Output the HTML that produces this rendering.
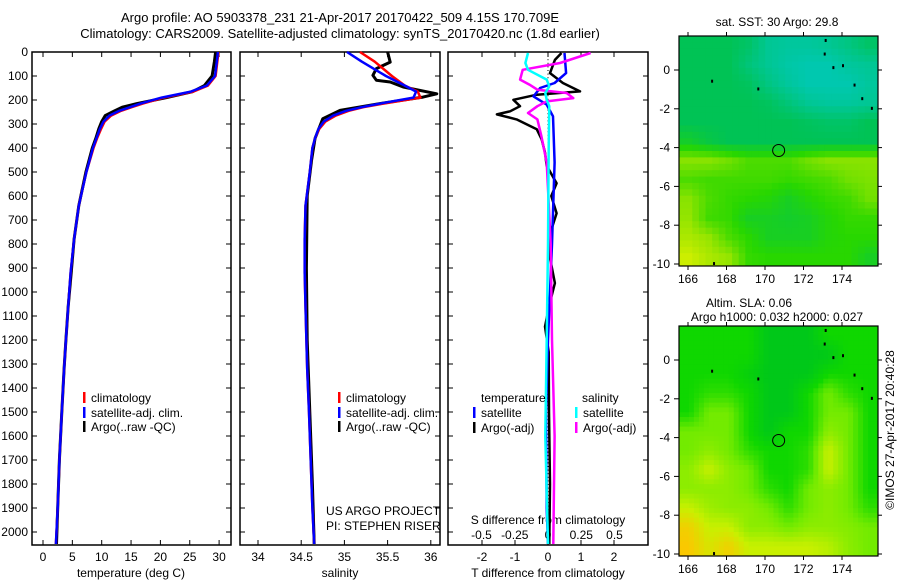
<!DOCTYPE html>
<html><head><meta charset="utf-8"><style>
html,body{margin:0;padding:0;background:#fff;}
svg{display:block;font-family:"Liberation Sans",sans-serif;}
text{font-size:12px;fill:#000;}
</style></head><body>
<svg id="fig" width="900" height="580" viewBox="0 0 900 580">
<rect width="900" height="580" fill="#fff"/>
<text x="340" y="22" text-anchor="middle" style="font-size:13px">Argo profile: AO 5903378_231 21-Apr-2017 20170422_509 4.15S 170.709E</text>
<text x="340" y="38" text-anchor="middle" style="font-size:13px">Climatology: CARS2009. Satellite-adjusted climatology: synTS_20170420.nc (1.8d earlier)</text>
<g id="g1"></g>
<g id="g2"></g>
<g id="g3"></g>
<g id="gm1"></g>
<g id="gm2"></g>
<text x="30" y="0" transform="translate(894,460) rotate(-90)" text-anchor="middle">©IMOS 27-Apr-2017 20:40:28</text>
</svg>
<script>
// ---- data ----
const depthTicks=[0,100,200,300,400,500,600,700,800,900,1000,1100,1200,1300,1400,1500,1600,1700,1800,1900,2000];
const tempTicks=[0,5,10,15,20,25,30];
const salTicks=[34,34.5,35,35.5,36];
const tdiffTicks=[-2,-1,0,1,2];
const sdiffTicks=[-0.5,-0.25,0,0.25,0.5];
const sdiffLabels=["-0.5","-0.25","0","0.25","0.5"];
const profDepth=[0,40,100,140,165,190,215,230,245,265,290,320,360,400,500,640,780,920,1060,1200,1320,1500,1700,1900,2050];
const tempClim=[29.9,29.7,29.4,28.1,25.6,20.6,17.0,15.1,13.3,11.6,10.5,9.9,9.2,8.6,7.4,6.1,5.3,4.7,4.3,3.9,3.6,3.2,2.8,2.5,2.2];
const tempSat=[29.8,29.6,29.3,27.9,25.2,20.2,16.6,14.8,13.0,11.3,10.3,9.7,9.1,8.5,7.4,6.1,5.3,4.7,4.3,3.9,3.6,3.2,2.8,2.5,2.2];
const tempArgo=[29.4,29.2,28.8,27.5,25.5,21.0,16.0,13.5,12.2,10.6,10.0,9.5,9.0,8.4,7.3,6.1,5.3,4.8,4.3,3.9,3.6,3.2,2.8,2.5,2.3];
const salClim=[35.18,35.35,35.55,35.70,35.85,35.88,35.45,35.22,35.05,34.90,34.78,34.71,34.66,34.63,34.60,34.55,34.54,34.54,34.55,34.56,34.57,34.59,34.61,34.63,34.65];
const salSat=[35.03,35.20,35.48,35.70,35.83,35.80,35.41,35.20,35.02,34.87,34.76,34.70,34.66,34.63,34.60,34.55,34.54,34.54,34.55,34.56,34.57,34.59,34.61,34.63,34.65];
const argoSDepth=[0,42,69,97,118,125,146,174,188,215,243,278,361,450,600,900,1200,1500,1800,2050];
const salArgo=[35.50,35.53,35.37,35.33,35.37,35.53,35.68,36.07,35.91,35.41,34.95,34.75,34.66,34.62,34.57,34.56,34.57,34.60,34.63,34.65];
const dTArgoDepth=[4,33,88,129,164,178,199,226,247,260,281,322,364,419,474,547,600,672,750,850,963,1050,1144,1250,1500,1800,2050];
const dTArgo=[0.41,0.21,0.06,0.45,0.97,-0.34,-1.05,-0.85,-1.15,-1.55,-0.95,-0.34,-0.19,-0.09,-0.04,0.26,0.10,0.26,0.08,0.05,0.21,0.05,-0.09,0.02,0.03,0.06,0.04];
const dTSatDepth=[4,88,129,150,185,219,268,460,800,1200,1500,1900,2050];
const dTSat=[0.50,0.55,0.20,-0.24,-0.44,-0.04,0.15,0.20,0.12,0.0,-0.06,-0.04,0.0];
const dSSatDepth=[4,46,74,115,143,171,199,226,400,800,1200,1600,2050];
const dSSat=[-0.15,-0.17,-0.15,-0.01,0.01,-0.02,-0.01,0.01,0.005,0.0,-0.01,-0.02,0.0];
const dSArgoDepth=[4,46,74,115,136,157,171,192,206,226,254,281,351,460,800,1200,1600,2050];
const dSArgo=[0.32,0.09,-0.19,-0.21,-0.14,-0.08,0.14,0.19,-0.01,-0.08,-0.15,-0.08,-0.05,-0.01,0.02,0.03,0.05,0.04];
const latTicks=[0,-2,-4,-6,-8,-10];
const lonTicks=[166,168,170,172,174];
const sstGrid=[
[1,1,1,0.8,0.3,0.2,0.2,0.3,0.5,0.8],
[1,1,1,0.6,0.3,0.1,0,0,0.2,0.3],
[1,1,1,0.9,0.5,0.2,0,0,0,0.2],
[1,1,1,1,0.9,0.6,0.3,0.2,0.2,0.3],
[1,1,1,1,1,1,0.9,0.8,0.8,1],
[1.5,1.2,1,1,1,1,1,1,1,1],
[2.8,2.8,2.6,2.3,2.3,2.3,2.6,2.8,2.8,2.8],
[2.3,2.2,2.2,2.2,2.2,2.1,2.2,2.3,2.6,2.7],
[2.8,2.3,2.1,2,1.9,1.6,1.9,2.1,2.2,2.6],
[2.9,2.2,2.1,1.6,1.6,1.5,1.6,1.9,2.1,2.1],
[3.1,2.9,2.3,2,1.6,1.6,1.6,1.9,2,2],
[3.4,3.1,2.9,2.1,2,2,2,2,2,1.6]];
const slaGrid=[
[1,1,1,1,0,0,0,1,1,1],
[1,1,1,1,0,0,0,0,1,1],
[1,1,1,0.5,0,0,0,1,1,1],
[1,1.3,1.3,1,0,0,1,2,1.3,1],
[1,2,2,1,0,0,1,2,2,1],
[2,2,2,1,0,1,1,2.3,2,1],
[2,2.3,2,1.3,1,1,1.3,3,2,1],
[2.3,3,2.3,2,1,1,1.3,3,2,1],
[2.3,2.3,2.3,2,1.3,1,2,2.3,2,1],
[3,2.5,2.3,2.3,2,1.3,2,2.3,2,1.3],
[3.8,3,3,2.3,2.3,2,2.3,2.3,2.2,2],
[4,3.3,3.8,3,3,3,3,2.8,2.3,2]];
const argoLon=170.709, argoLat=-4.15;
// ---- helpers ----
const NS="http://www.w3.org/2000/svg";
function mk(tag,parent,attrs){const e=document.createElementNS(NS,tag);for(const k in attrs)e.setAttribute(k,attrs[k]);parent.appendChild(e);return e;}
const yD=d=>52+d*0.24;
const xT=t=>43+t*5.87;
const xS=s=>258+(s-34)*86.4;
const xdT=t=>548+t*33;
const xdS=s=>548+s*133;
function panelBox(g,x0,x1,name){const r=mk('rect',g,{x:x0,y:52,width:x1-x0,height:493,fill:'none',stroke:'#000','stroke-width':1.5});


depthTicks.forEach(d=>{mk('line',g,{x1:x0,x2:x0+5,y1:yD(d),y2:yD(d),stroke:'#000'});mk('line',g,{x1:x1-5,x2:x1,y1:yD(d),y2:yD(d),stroke:'#000'});});}
function line(g,xs,ds,fx,color,name,w){let p='';xs.forEach((v,i)=>{p+=(i?'L':'M')+fx(v).toFixed(1)+','+yD(ds[i]).toFixed(1);});
const e=mk('path',g,{d:p,fill:'none',stroke:color,'stroke-width':w||2.5,'stroke-linejoin':'round'});

}
function txt(g,x,y,s,anchor){const t=mk('text',g,{x:x,y:y,'text-anchor':anchor||'start'});t.textContent=s;return t;}
function legend(g,x,y,color,label){mk('rect',g,{x:x,y:y-5,width:2.5,height:11,fill:color});const t=txt(g,x+8,y+5,label);

}
// ---- panel 1 ----
const g1=document.getElementById('g1');
panelBox(g1,32,231,'temperature-plot-area');
depthTicks.forEach(d=>{const t=txt(g1,28,yD(d)+4,String(d),'end');

});
tempTicks.forEach(v=>{mk('line',g1,{x1:xT(v),x2:xT(v),y1:52,y2:57,stroke:'#000'});mk('line',g1,{x1:xT(v),x2:xT(v),y1:540,y2:545,stroke:'#000'});
const t=txt(g1,xT(v),561,String(v),'middle');

});
const tl1=txt(g1,131,577,'temperature (deg C)','middle');


line(g1,tempArgo,profDepth,xT,'#000','argo-temperature-line',3);
line(g1,tempClim,profDepth,xT,'#f00','climatology-temperature-line');
line(g1,tempSat,profDepth,xT,'#00f','satellite-temperature-line');
legend(g1,83,397,'#f00','climatology');legend(g1,83,412,'#00f','satellite-adj. clim.');legend(g1,83,426,'#000','Argo(..raw -QC)');
// ---- panel 2 ----
const g2=document.getElementById('g2');
panelBox(g2,240,440,'salinity-plot-area');
salTicks.forEach(v=>{mk('line',g2,{x1:xS(v),x2:xS(v),y1:52,y2:57,stroke:'#000'});mk('line',g2,{x1:xS(v),x2:xS(v),y1:540,y2:545,stroke:'#000'});
const t=txt(g2,xS(v),561,String(v),'middle');

});
const tl2=txt(g2,340,577,'salinity','middle');


line(g2,salArgo,argoSDepth,xS,'#000','argo-salinity-line',3);
line(g2,salClim,profDepth,xS,'#f00','climatology-salinity-line');
line(g2,salSat,profDepth,xS,'#00f','satellite-salinity-line');
legend(g2,338,397,'#f00','climatology');legend(g2,338,412,'#00f','satellite-adj. clim.');legend(g2,338,426,'#000','Argo(..raw -QC)');
const us=txt(g2,326,515,'US ARGO PROJECT');
const pi=txt(g2,326,530,'PI: STEPHEN RISER');
// ---- panel 3 ----
const g3=document.getElementById('g3');
panelBox(g3,448,648,'difference-plot-area');
for(let d=0;d<=2050;d+=15)mk('rect',g3,{x:547.5,y:yD(d),width:1,height:1,fill:'#000'});
tdiffTicks.forEach(v=>{mk('line',g3,{x1:xdT(v),x2:xdT(v),y1:52,y2:57,stroke:'#000'});mk('line',g3,{x1:xdT(v),x2:xdT(v),y1:540,y2:545,stroke:'#000'});
const t=txt(g3,xdT(v),561,String(v),'middle');

});
sdiffTicks.forEach((v,i)=>{const t=txt(g3,xdS(v),539,sdiffLabels[i],'middle');

});
const sl=txt(g3,548,524,'S difference from climatology','middle');
const tl3=txt(g3,548,577,'T difference from climatology','middle');
line(g3,dTArgo,dTArgoDepth,xdT,'#000','argo-temp-diff-line',2.5);
line(g3,dTSat,dTSatDepth,xdT,'#00f','satellite-temp-diff-line',2.5);
line(g3,dSArgo,dSArgoDepth,xdS,'#f0f','argo-sal-diff-line',2.5);
line(g3,dSSat,dSSatDepth,xdS,'#0ff','satellite-sal-diff-line',2.5);
txt(g3,481,402,'temperature');txt(g3,582,402,'salinity');
legend(g3,473,412,'#00f','satellite');legend(g3,473,427,'#000','Argo(-adj)');
legend(g3,575,412,'#0ff','satellite');legend(g3,575,427,'#f0f','Argo(-adj)');
// ---- maps ----
function lerpColor(stops,v){for(let i=0;i<stops.length-1;i++){const a=stops[i],b=stops[i+1];if(v<=b[0]||i==stops.length-2){const f=Math.max(0,Math.min(1,(v-a[0])/(b[0]-a[0])));
return 'rgb('+[1,2,3].map(k=>Math.round(a[k]+(b[k]-a[k])*f)).join(',')+')';}}}
const sstStops=[[0,0,200,175],[1,0,195,85],[2,40,215,0],[3,160,230,0],[3.5,215,240,0]];
const slaStops=[[0,0,200,25],[1,15,215,0],[2,115,235,0],[3,200,240,0],[4,250,200,0]];
function sample(grid,u,v){const R=grid.length,C=grid[0].length;u=Math.max(0,Math.min(C-1,u));v=Math.max(0,Math.min(R-1,v));
const c0=Math.floor(u),r0=Math.floor(v),c1=Math.min(C-1,c0+1),r1=Math.min(R-1,r0+1),fu=u-c0,fv=v-r0;
return grid[r0][c0]*(1-fu)*(1-fv)+grid[r0][c1]*fu*(1-fv)+grid[r1][c0]*(1-fu)*fv+grid[r1][c1]*fu*fv;}
function drawMap(g,y0,y00,grid,stops,name,title1,title2,sub){
const x0=679,x1=878,y1=y0+230,C=grid[0].length,R=grid.length,cw=(x1-x0)/(C*sub),ch=(y1-y0)/(R*sub);
const xl=lon=>688+(lon-166)*19.25, yl=lat=>y00-lat*19.4;
for(let r=0;r<R*sub;r++)for(let c=0;c<C*sub;c++){const v=sample(grid,(c+0.5)/sub-0.5,(r+0.5)/sub-0.5);
const e=mk('rect',g,{x:(x0+c*cw).toFixed(2),y:(y0+r*ch).toFixed(2),width:(cw+0.5).toFixed(2),height:(ch+0.5).toFixed(2),fill:lerpColor(stops,v)});

}
[[173.1,1.6],[173.05,0.9],[173.5,0.2],[174.0,0.3],[174.6,-0.7],[175.0,-1.4],[175.5,-1.9],[169.6,-0.9],[167.2,-0.5],[167.3,-9.9]].forEach(p=>mk('rect',g,{x:xl(p[0]),y:yl(p[1]),width:2,height:3,fill:'#000'}));
const cc=mk('circle',g,{cx:xl(argoLon),cy:yl(argoLat),r:6,fill:'none',stroke:'#000','stroke-width':1});


const bx=mk('rect',g,{x:x0,y:y0,width:x1-x0,height:y1-y0,fill:'none',stroke:'#000','stroke-width':1.2});


latTicks.forEach(v=>{const y=yl(v);mk('line',g,{x1:x0-5,x2:x0,y1:y,y2:y,stroke:'#000'});mk('line',g,{x1:x1,x2:x1+4,y1:y,y2:y,stroke:'#000'});
const t=txt(g,x0-9,y+4,String(v),'end');

});
lonTicks.forEach(v=>{const x=xl(v);mk('line',g,{x1:x,x2:x,y1:y0-4,y2:y0,stroke:'#000'});mk('line',g,{x1:x,x2:x,y1:y1,y2:y1+4,stroke:'#000'});
const t=txt(g,x,y1+17,String(v),'middle');

});
if(title2){txt(g,749,y0-19,title1,'middle');txt(g,777,y0-5,title2,'middle');}else txt(g,777,y0-10,title1,'middle');}
drawMap(document.getElementById('gm1'),36,70,sstGrid,sstStops,'sst-map-frame','sat. SST: 30 Argo: 29.8',null,3);
drawMap(document.getElementById('gm2'),326,360,slaGrid,slaStops,'sla-map-frame','Altim. SLA: 0.06','Argo h1000: 0.032 h2000: 0.027',4);
</script>
</body></html>
